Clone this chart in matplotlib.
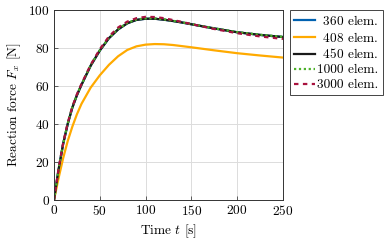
import matplotlib
matplotlib.use("Agg")
import matplotlib.pyplot as plt

plt.rcParams['font.family'] = ['cmr10', 'DejaVu Serif']
plt.rcParams['mathtext.fontset'] = 'cm'
plt.rcParams['axes.formatter.use_mathtext'] = True
plt.rcParams['font.size'] = 9.6

t = [0, 5, 10, 15, 20, 25, 30, 40, 50, 60, 70, 80, 90, 100, 110, 120, 130, 140, 150, 175, 200, 225, 250]
f_360 = [0, 16, 29.5, 40, 48.5, 55, 60.5, 70.5, 78.5, 85.0, 89.6, 92.8, 94.6, 95.2, 95.2, 94.7, 94.0, 93.2, 92.3, 90.1, 88.1, 86.7, 85.6]
f_408 = [0, 11.5, 22, 31, 38.5, 45, 50.5, 59, 65.5, 71, 75.5, 78.8, 80.7, 81.6, 81.9, 81.8, 81.4, 80.8, 80.2, 78.6, 77.1, 75.9, 74.8]
f_450 = [0, 16, 29.5, 40, 48.5, 55, 60.5, 70.5, 78.5, 85.0, 89.6, 92.8, 94.6, 95.2, 95.2, 94.7, 94.0, 93.2, 92.3, 90.1, 88.1, 86.7, 85.6]
f_1000 = [0, 16.1, 29.6, 40.2, 48.7, 55.2, 60.7, 70.7, 78.7, 85.2, 89.8, 93.0, 94.8, 95.4, 95.4, 94.9, 94.1, 93.3, 92.4, 90.2, 88.2, 86.8, 85.7]
f_3000 = [0, 16.5, 30, 40.5, 49, 55.5, 61, 71, 79.2, 85.9, 90.6, 93.7, 95.5, 96.2, 96.1, 95.5, 94.5, 93.5, 92.4, 89.8, 87.6, 85.9, 84.6]

labels = [r"$\enspace$360 elem.", r"$\enspace$408 elem.", r"$\enspace$450 elem.", "1000 elem.", "3000 elem."]

fig = plt.figure(figsize=(3.87, 2.43), dpi=100)
ax = fig.add_axes([54/387, 43/243, 229/387, 190.4/243])

ax.plot(t, f_360, color='#0061B0', lw=1.6, label=labels[0])
ax.plot(t, f_408, color='#FFAA00', lw=1.6, label=labels[1])
ax.plot(t, f_450, color='#1a1a1a', lw=1.6, label=labels[2])
ax.plot(t, f_1000, color='#4CB02A', lw=1.6, ls=(0, (1, 1.2)), label=labels[3])
ax.plot(t, f_3000, color='#A8123E', lw=1.6, ls=(0, (2, 2)), label=labels[4])

ax.set_xlim(0, 250)
ax.set_ylim(0, 100)
ax.set_xticks([0, 50, 100, 150, 200, 250])
ax.set_yticks([0, 20, 40, 60, 80, 100])
ax.grid(True, color='#dcdcdc', lw=0.7)
ax.set_axisbelow(True)
ax.tick_params(direction='in', length=3, width=0.6, color='#444444', pad=3)
for s in ax.spines.values():
    s.set_color('#333333')
    s.set_linewidth(0.7)

ax.set_xlabel(r"Time $t$ [s]", labelpad=3)
ax.set_ylabel(r"Reaction force $F_x$ [N]", labelpad=4)

leg = ax.legend(loc='upper left', bbox_to_anchor=(290/387, 1 - 10/243), bbox_transform=fig.transFigure,
                fancybox=False, edgecolor='#444444', framealpha=1, handlelength=1.6,
                handletextpad=0.15, borderpad=0.3, labelspacing=0.2, borderaxespad=0)
leg.get_frame().set_linewidth(0.7)

fig.savefig("out.png", dpi=100)
